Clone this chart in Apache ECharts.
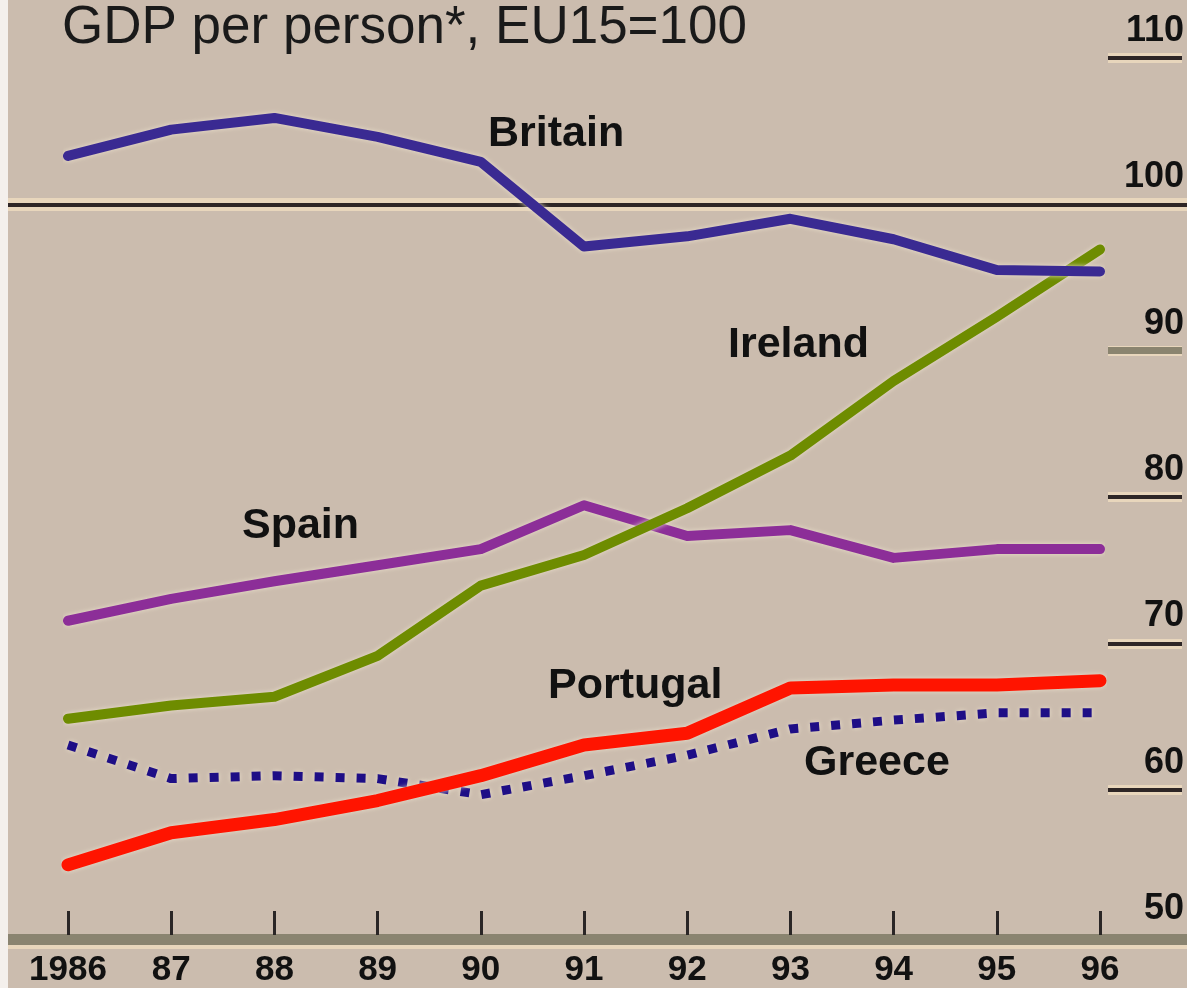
<!DOCTYPE html>
<html>
<head>
    <meta charset="utf-8">
    <title>GDP per person</title>
    <style type="text/css">
        html, body { height: 100%; }
        body { margin: 0; padding: 0; background: #cbbcae; }
        #main { width: 1187px; height: 988px; }
    </style>
</head>
<body>
<div id="main"></div>
<script type="text/javascript" src="https://cdn.jsdelivr.net/npm/echarts@6/dist/echarts.min.js"></script>
<script type="text/javascript">
    // 数据
    var years = [1986, 1987, 1988, 1989, 1990, 1991, 1992, 1993, 1994, 1995, 1996];
    var britain  = [103.3, 105.1, 105.9, 104.6, 102.9, 97.1, 97.8, 99.0, 97.6, 95.5, 95.4];
    var ireland  = [64.8, 65.7, 66.3, 69.1, 73.9, 76.0, 79.2, 82.8, 87.9, 92.3, 96.9];
    var spain    = [71.5, 73.0, 74.2, 75.3, 76.4, 79.4, 77.3, 77.7, 75.8, 76.4, 76.4];
    var portugal = [54.8, 57.0, 57.9, 59.2, 60.9, 63.0, 63.8, 66.9, 67.1, 67.1, 67.4];
    var greece   = [63.0, 60.7, 60.9, 60.7, 59.6, 60.9, 62.3, 64.1, 64.7, 65.2, 65.2];
    var yTicks = [50, 60, 70, 80, 90, 100, 110];

    var font = "'Liberation Sans Narrow', 'Liberation Sans', sans-serif";
    var none = 'rgba(0,0,0,0)';

    function pairs(vals) {
        var res = [];
        for (var i = 0; i < years.length; i++) {
            res.push([years[i], vals[i]]);
        }
        return res;
    }

    function line(name, vals, color, width, dash) {
        return {
            name: name,
            type: 'line',
            xAxisIndex: 2,
            yAxisIndex: 2,
            data: pairs(vals),
            symbol: 'none',
            animation: false,
            lineStyle: {
                color: color,
                width: width,
                type: dash || 'solid',
                cap: dash ? 'butt' : 'round',
                join: 'round',
                shadowColor: 'rgba(236,226,206,0.95)',
                shadowBlur: 5
            },
            z: 5
        };
    }

    // 每条网格线的颜色（从50到110）
    var darkLines = [none, '#2e2626', '#2e2626', '#2e2626', none, none, '#2e2626'];
    var grayLines = [none, none, none, none, '#8a846f', none, none];
    var lightLines = [none, '#e8d6bc', '#e8d6bc', '#e8d6bc', '#e8d6bc', none, '#e8d6bc'];

    function yBase(grid, extra) {
        var a = {
            type: 'value',
            gridIndex: grid,
            min: 50,
            max: 110,
            interval: 10,
            axisLine: { show: false },
            axisTick: { show: false },
            axisLabel: { show: false },
            splitLine: { show: false }
        };
        for (var k in extra) a[k] = extra[k];
        return a;
    }

    var myChart = echarts.init(document.getElementById('main'));

    var option = {
        backgroundColor: '#cbbcae',
        animation: false,
        grid: [
            { left: 8, right: 0, top: 58, bottom: 52 },      // 全宽：100线和x轴
            { left: 68, right: 87, top: 58, bottom: 52 },    // 数据
            { left: 1108, right: 0, top: 58, bottom: 52 }    // 右侧短网格线
        ],
        xAxis: [
            {
                type: 'value', gridIndex: 0, min: 0, max: 1, position: 'bottom', offset: 11,
                axisLine: { show: true, lineStyle: { color: '#e8d6bc', width: 4, cap: 'butt' } },
                axisTick: { show: false }, axisLabel: { show: false }, splitLine: { show: false }
            },
            {
                type: 'value', gridIndex: 0, min: 0, max: 1, position: 'bottom', offset: 3,
                axisLine: { show: true, lineStyle: { color: '#8a8470', width: 11, cap: 'butt' } },
                axisTick: { show: false }, axisLabel: { show: false }, splitLine: { show: false }
            },
            {
                type: 'value', gridIndex: 1, min: 1986, max: 1996, interval: 1, position: 'bottom',
                axisLine: { show: false },
                axisTick: { show: true, inside: true, length: 24, lineStyle: { color: '#2a2626', width: 3 } },
                axisLabel: {
                    show: true, margin: 18,
                    color: '#111', fontFamily: font, fontWeight: 'bold', fontSize: 35,
                    formatter: function (v) {
                        return v === 1986 ? '1986' : String(v).slice(2);
                    }
                },
                splitLine: { show: false }
            },
            {
                type: 'value', gridIndex: 2, min: 0, max: 1, show: false
            }
        ],
        yAxis: [
            yBase(0, { splitLine: { show: true, lineStyle: { color: [none, none, none, none, none, '#e8d6bc', none], width: 13 } } }),
            yBase(0, { splitLine: { show: true, lineStyle: { color: [none, none, none, none, none, '#2e2626', none], width: 4 } } }),
            yBase(1, {}),
            yBase(2, { splitLine: { show: true, lineStyle: { color: lightLines, width: 10 } } }),
            yBase(2, { splitLine: { show: true, lineStyle: { color: grayLines, width: 7 } } }),
            yBase(2, {
                position: 'right',
                splitLine: { show: true, lineStyle: { color: darkLines, width: 4 } },
                axisLabel: {
                    show: true, inside: true, margin: -2,
                    verticalAlign: 'bottom', padding: [0, 0, 9, 0],
                    color: '#111', fontFamily: font, fontWeight: 'bold', fontSize: 36,
                    formatter: function (v) { return yTicks.indexOf(v) >= 0 ? String(v) : ''; }
                }
            })
        ],
        graphic: [
            { type: 'rect', left: 0, top: 0, shape: { width: 8, height: 988 }, style: { fill: '#f4f0ec' } },
            { type: 'text', left: 62, top: 2, style: { text: 'GDP per person*, EU15=100', fontFamily: font, fontSize: 53, fill: '#1a1a1a' } },
            { type: 'text', left: 488, top: 113, style: { text: 'Britain', fontFamily: font, fontWeight: 'bold', fontSize: 43, fill: '#111' } },
            { type: 'text', left: 728, top: 324, style: { text: 'Ireland', fontFamily: font, fontWeight: 'bold', fontSize: 43, fill: '#111' } },
            { type: 'text', left: 242, top: 505, style: { text: 'Spain', fontFamily: font, fontWeight: 'bold', fontSize: 43, fill: '#111' } },
            { type: 'text', left: 548, top: 665, style: { text: 'Portugal', fontFamily: font, fontWeight: 'bold', fontSize: 43, fill: '#111' } },
            { type: 'text', left: 804, top: 742, style: { text: 'Greece', fontFamily: font, fontWeight: 'bold', fontSize: 43, fill: '#111' } }
        ],
        series: [
            line('Spain', spain, '#8c2e98', 10),
            line('Ireland', ireland, '#6e8c00', 10),
            line('Greece', greece, '#1e0e86', 9, [9, 12]),
            line('Portugal', portugal, '#ff1400', 13),
            line('Britain', britain, '#3a2a92', 10)
        ]
    };

    myChart.setOption(option);
</script>
</body>
</html>
